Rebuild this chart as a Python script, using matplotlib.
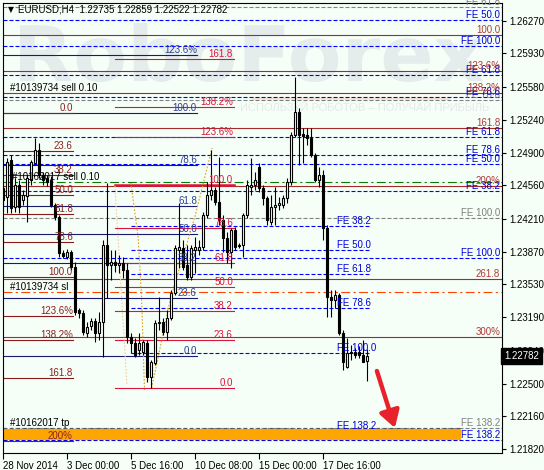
import matplotlib
matplotlib.use("Agg")
import matplotlib.pyplot as plt
import matplotlib.transforms as mtransforms
from matplotlib.patches import Rectangle, PathPatch, FancyArrowPatch
from matplotlib.textpath import TextPath
from matplotlib.font_manager import FontProperties

# ---------------- data ----------------
opens = [1.24532,1.24438,1.24823,1.24334,1.24563,1.24407,1.24449,1.24615,1.24791,1.24926,
         1.24667,1.24636,1.24615,1.24355,1.24230,1.23856,1.23815,1.23867,1.23711,1.23264,
         1.23233,1.23025,1.23098,1.23150,1.23025,1.23139,1.23939,1.23732,1.23763,1.23732,
         1.23752,1.23680,1.22984,1.22921,1.22848,1.22828,1.22921,1.22568,1.22713,1.23129,
         1.23139,1.23036,1.23181,1.23441,1.23887,1.23908,1.23732,1.23607,1.23887,1.23887,
         1.23919,1.24251,1.24459,1.24511,1.24386,1.24199,1.24012,1.23867,1.24095,1.23939,
         1.23939,1.24251,1.24542,1.24563,1.24750,1.24532,1.24428,1.24178,1.24334,1.24355,
         1.24355,1.24428,1.24594,1.25082,1.25321,1.25093,1.25082,1.25051,1.24875,1.24615,
         1.24667,1.24116,1.23399,1.23368,1.23420,1.23025,1.22672,1.22817,1.22828,1.22828,
         1.22797,1.22735]
closes = [1.24407,1.24802,1.24324,1.24563,1.24334,1.24459,1.24636,1.24802,1.24926,1.24667,
          1.24615,1.24594,1.24355,1.24230,1.23856,1.23825,1.23867,1.23711,1.23243,1.23233,
          1.23036,1.23087,1.23150,1.23025,1.23139,1.23939,1.23732,1.23763,1.23732,1.23752,
          1.23680,1.22984,1.22921,1.22797,1.22921,1.22932,1.22568,1.22724,1.23129,1.23139,
          1.23036,1.23181,1.23441,1.23908,1.23919,1.23711,1.23607,1.23908,1.23919,1.23919,
          1.24251,1.24459,1.24511,1.24386,1.24199,1.24012,1.23867,1.24095,1.23919,1.23929,
          1.24251,1.24563,1.24563,1.24615,1.24532,1.24428,1.24199,1.24334,1.24355,1.24376,
          1.24428,1.24594,1.25082,1.25321,1.25082,1.25072,1.25051,1.24875,1.24615,1.24667,
          1.24116,1.23399,1.23368,1.23420,1.23025,1.22724,1.22817,1.22828,1.22797,1.22797,
          1.22724,1.22782]
highs = [1.24667,1.24843,1.24875,1.24636,1.24615,1.24511,1.24667,1.24823,1.25051,1.24999,
         1.24698,1.24667,1.24656,1.24376,1.24251,1.23887,1.23898,1.23887,1.23763,1.23285,
         1.23264,1.23139,1.23181,1.23181,1.23243,1.23991,1.24584,1.23887,1.23887,1.23836,
         1.23815,1.23752,1.23025,1.22973,1.23025,1.22952,1.22952,1.22745,1.23160,1.23399,
         1.23181,1.23264,1.23472,1.23939,1.24376,1.23991,1.23939,1.23939,1.24023,1.23991,
         1.24282,1.24594,1.24926,1.24542,1.24854,1.24251,1.24075,1.24116,1.24126,1.23960,
         1.24272,1.24615,1.24843,1.24698,1.24791,1.24563,1.24449,1.24459,1.24542,1.24438,
         1.24459,1.24636,1.25114,1.25685,1.25363,1.25155,1.25155,1.25155,1.24895,1.24750,
         1.24719,1.24147,1.23472,1.23472,1.23441,1.23056,1.22973,1.22900,1.22869,1.22890,
         1.22952,1.22859]
lows = [1.24282,1.24272,1.24272,1.24282,1.24272,1.24355,1.24178,1.24563,1.24771,1.24636,
        1.24563,1.24552,1.24334,1.24199,1.23815,1.23804,1.23794,1.23680,1.23212,1.23181,
        1.23004,1.22984,1.23056,1.22932,1.22952,1.22776,1.23389,1.23576,1.23659,1.23649,
        1.23597,1.22921,1.22817,1.22776,1.22797,1.22797,1.22516,1.22454,1.22693,1.23056,
        1.23004,1.22952,1.23160,1.23420,1.23700,1.23680,1.23576,1.23576,1.23649,1.23836,
        1.23887,1.24220,1.24407,1.24355,1.24147,1.23867,1.23752,1.23700,1.23887,1.23908,
        1.23815,1.24220,1.24459,1.24511,1.24490,1.24355,1.24147,1.24147,1.24147,1.24303,
        1.24324,1.24376,1.24563,1.25062,1.24771,1.24791,1.24978,1.24854,1.24594,1.24542,
        1.23991,1.23191,1.23191,1.23285,1.23004,1.22641,1.22661,1.22745,1.22765,1.22765,
        1.22724,1.22522]

date_ticks = [0, 16, 32, 48, 64, 80]
date_labels = ["28 Nov 2014", "3 Dec 00:00", "5 Dec 16:00", "10 Dec 08:00",
               "15 Dec 00:00", "17 Dec 16:00"]
price_ticks = [1.26270, 1.25930, 1.25580, 1.25240, 1.24900, 1.24560, 1.24210,
               1.23870, 1.23530, 1.23190, 1.22840, 1.22500, 1.22160, 1.21820]

fib_left_levels = [1.25314, 1.24911, 1.24663, 1.24461, 1.24260, 1.23973, 1.23608,
                   1.23206, 1.22957, 1.22555, 1.21903]
fib_left_labels = ["0.0", "23.6", "38.2", "50.0", "61.8", "78.6", "100.0",
                   "123.6%", "138.2%", "161.8", "200%"]
fib_navy_levels = [1.25910, 1.25314, 1.24773, 1.24349, 1.24050, 1.23752, 1.23385, 1.22786]
fib_navy_labels = ["123.6%", "100.0", "78.6", "61.8", "50.0", "38.2", "23.6", "0.0"]
fib_crim_levels = [1.25868, 1.25370, 1.25062, 1.24563, 1.24111, 1.23756, 1.23506,
                   1.23258, 1.22949, 1.22451]
fib_crim_labels = ["161.8", "138.2%", "123.6%", "100.0", "78.6", "61.8", "50.0",
                   "38.2", "23.6", "0.0"]
fib_right_levels = [1.26121, 1.25752, 1.25522, 1.25152, 1.24553, 1.23583, 1.22984]
fib_right_labels = ["100.0", "123.6%", "138.2%", "161.8", "200%", "261.8", "300%"]

fe_blue_levels = [1.26277, 1.26007, 1.25706, 1.25479, 1.25065, 1.24875, 1.24786,
                  1.24501, 1.23801, 1.21913]
fe_blue_labels = ["FE 50.0", "FE 100.0", "FE 61.8", "FE 78.6", "FE 61.8", "FE 78.6",
                  "FE 50.0", "FE 38.2", "FE 100.0", "FE 138.2"]
fe_gray_levels = [1.26415, 1.25446, 1.24217, 1.22035]
fe_gray_labels = ["FE 61.8", "FE 78.6", "FE 100.0", "FE 138.2"]
fe_inner_levels = [1.24137, 1.23888, 1.23638, 1.23280, 1.22820, 1.22007]
fe_inner_labels = ["FE 38.2", "FE 50.0", "FE 61.8", "FE 78.6", "FE 100.0", "FE 138.2"]

order_sell1 = 1.25522
order_sell2 = 1.24591
order_sl = 1.23448
order_tp = 1.22035
zone_low, zone_high = 1.21913, 1.22023

trend_peach_x = [27.9, 30.9]
trend_peach_y = [1.24553, 1.22485]
trend_down_x = [31.9, 33.7, 34.6, 35.3]
trend_down_y = [1.24584, 1.24023, 1.23368, 1.22433]
trend_up_x = [37.1, 41.7, 47.9, 52.2]
trend_up_y = [1.22454, 1.23368, 1.24234, 1.24947]

arrow_start = (93.4, 1.22630)
arrow_end = (97.9, 1.22038)

title = "EURUSD,H4  1.22735 1.22859 1.22522 1.22782"
last_price = 1.22782

# ---------------- figure ----------------
W, H = 544, 470
BG = "#F5FFF8"
FS = 7
plt.rcParams["font.family"] = ["Liberation Sans", "DejaVu Sans"]
fig = plt.figure(figsize=(W / 100, H / 100), dpi=100)
fig.patch.set_facecolor(BG)

L, R, T, B = 2.5, 502, 3, 453
ax = fig.add_axes([L / W, 1 - B / H, (R - L) / W, (B - T) / H])
ax.set_facecolor(BG)
ax.set_xlim(-0.2, 124.675)
ax.set_ylim(1.21778, 1.26454)

pix = mtransforms.Affine2D().scale(1 / W, -1 / H).translate(0, 1) + fig.transFigure

# watermark
tpth = TextPath((0, 0), "RoboForex", size=1, prop=FontProperties(family="DejaVu Sans", weight="bold"))
bb = tpth.get_extents()
sx = (483 - 20) / bb.width
sy = (82 - 23) / bb.height
wm_tr = mtransforms.Affine2D().translate(-bb.x0, -bb.y0).scale(sx, -sy).translate(20, 82) + pix
ax.add_patch(PathPatch(tpth, transform=wm_tr, facecolor="#E4ECEC", edgecolor="none", zorder=0.2))
ax.add_patch(Rectangle((252, 97), 198, 2.5, transform=pix, facecolor="#FBE6CF",
                       edgecolor="none", zorder=0.2))
ax.text(240, 108, "ИСПОЛЬЗУЙ РОБОТОВ – ПОЛУЧАЙ ПРИБЫЛЬ", transform=pix, fontsize=8,
        color="#E4E9E9", va="center", ha="left", zorder=0.3)

LW = 0.8
DASH = (0, (3.6, 1.8))
BLUE = "#0000FF"
x_left_end = -0.2
x_right_end = 124.675
lab_right_x = 124.2


def level_set(levels, labels, x0, x1, color, ls, lw, lx, ha, tcolor, z=1):
    for p, lab in zip(levels, labels):
        ax.plot([x0, x1], [p, p], color=color, ls=ls, lw=lw, zorder=z)
        ax.text(lx, p, lab, ha=ha, va="bottom", color=tcolor, fontsize=FS, zorder=4)


# orange zone
ax.add_patch(Rectangle((x_left_end, zone_low), 114.4 - x_left_end, zone_high - zone_low,
                       facecolor="#FFA500", edgecolor="none", zorder=1.5))

level_set(fe_gray_levels, fe_gray_labels, x_left_end, x_right_end, "#808080", DASH, LW,
          lab_right_x, "right", "#808080")
level_set(fe_blue_levels, fe_blue_labels, x_left_end, x_right_end, BLUE, DASH, LW,
          lab_right_x, "right", "#0000DD")
level_set(fib_right_levels, fib_right_labels, x_left_end, x_right_end, "#A52A2A", "-", LW,
          lab_right_x, "right", "#B03A3A")
level_set(fib_navy_levels, fib_navy_labels, x_left_end, 48.4, "#1A1A70", "-", LW,
          48.4, "right", "#2F3F8F")
level_set(fib_left_levels, fib_left_labels, x_left_end, 17.4, "#8B1A1A", "-", LW,
          17.4, "right", "#8B2020")
level_set(fe_inner_levels, fe_inner_labels, 31.9, 91.4, BLUE, DASH, LW,
          83.4, "left", "#0000DD")
for p, lab in zip(fib_crim_levels, fib_crim_labels):
    ax.plot([27.9, 57.7], [p, p], color="#DC143C", lw=1.8 if lab == "100.0" else LW, zorder=1)
    ax.text(57.4, p, lab, ha="right", va="bottom", color="#DC143C", fontsize=FS, zorder=4)

# order lines
ax.plot([x_left_end, x_right_end], [order_sell2] * 2, color="#008000", lw=LW,
        ls=(0, (8, 3, 2, 3)), zorder=1.2)
ax.plot([x_left_end, x_right_end], [order_sl] * 2, color="#FF4500", lw=LW,
        ls=(0, (8, 3, 2, 3)), zorder=1.2)
ax.plot([x_left_end, 114.4], [order_tp] * 2, color="#555555", lw=LW, ls=(0, (3, 3)), zorder=1.6)
ax.text(1.7, order_sell1, "#10139734 sell 0.10", ha="left", va="bottom", fontsize=FS, color="black", zorder=4)
ax.text(2.2, order_sell2, "#10162017 sell 0.10", ha="left", va="bottom", fontsize=FS, color="black", zorder=4)
ax.text(1.7, order_sl, "#10139734 sl", ha="left", va="bottom", fontsize=FS, color="black", zorder=4)
ax.text(1.7, order_tp, "#10162017 tp", ha="left", va="bottom", fontsize=FS, color="black", zorder=4)

# trend lines
ax.plot(trend_peach_x, trend_peach_y, color="#F5C9A0", lw=LW, ls=(0, (1.5, 1.5)), zorder=1.3)
ax.plot(trend_down_x, trend_down_y, color="#E0A020", lw=LW, ls=(0, (1.5, 1.5)), zorder=1.3)
ax.plot(trend_up_x, trend_up_y, color="#E0A020", lw=LW, ls=(0, (1.5, 1.5)), zorder=1.3)

# candles
BW = 0.5
for i, (o, h, l, c) in enumerate(zip(opens, highs, lows, closes)):
    ax.plot([i, i], [l, h], color="black", lw=0.8, zorder=3, solid_capstyle="butt")
    bot = min(o, c)
    ht = max(abs(c - o), 0.00003)
    ax.add_patch(Rectangle((i - BW / 2, bot), BW, ht,
                           facecolor="white" if c > o else "black",
                           edgecolor="black", lw=0.8, zorder=3.5))

# arrow
ax.add_patch(FancyArrowPatch(arrow_start, arrow_end, arrowstyle="-|>,head_length=10,head_width=6",
                             mutation_scale=1, lw=3.2, color="#E8222A", zorder=5,
                             shrinkA=0, shrinkB=0))

# axes
ax.yaxis.tick_right()
ax.set_yticks(price_ticks)
ax.set_yticklabels([f"{p:.5f}" for p in price_ticks])
ax.tick_params(axis="y", direction="out", length=3, width=0.8, pad=2, labelsize=FS, colors="black")
ax.set_xticks(date_ticks)
ax.set_xticklabels(date_labels, ha="left")
ax.tick_params(axis="x", direction="out", length=4, width=0.8, pad=1.5, labelsize=FS)
for s in ax.spines.values():
    s.set_linewidth(0.8)
    s.set_color("black")

# current price box
tr = mtransforms.blended_transform_factory(ax.transAxes, ax.transData)
ax.text(1.004, last_price, f"{last_price:.5f}", transform=tr, ha="left", va="center",
        fontsize=FS, color="white", zorder=10, clip_on=False,
        bbox=dict(boxstyle="square,pad=0.3", facecolor="black", edgecolor="black"))

# title
fig.text(8 / W, 1 - 10 / H, "▼", fontsize=5.5, va="center", ha="left", color="black",
         family="DejaVu Sans")
fig.text(18 / W, 1 - 10 / H, title, fontsize=FS, va="center", ha="left", color="black")

fig.savefig("out.png", dpi=100, facecolor=BG)
